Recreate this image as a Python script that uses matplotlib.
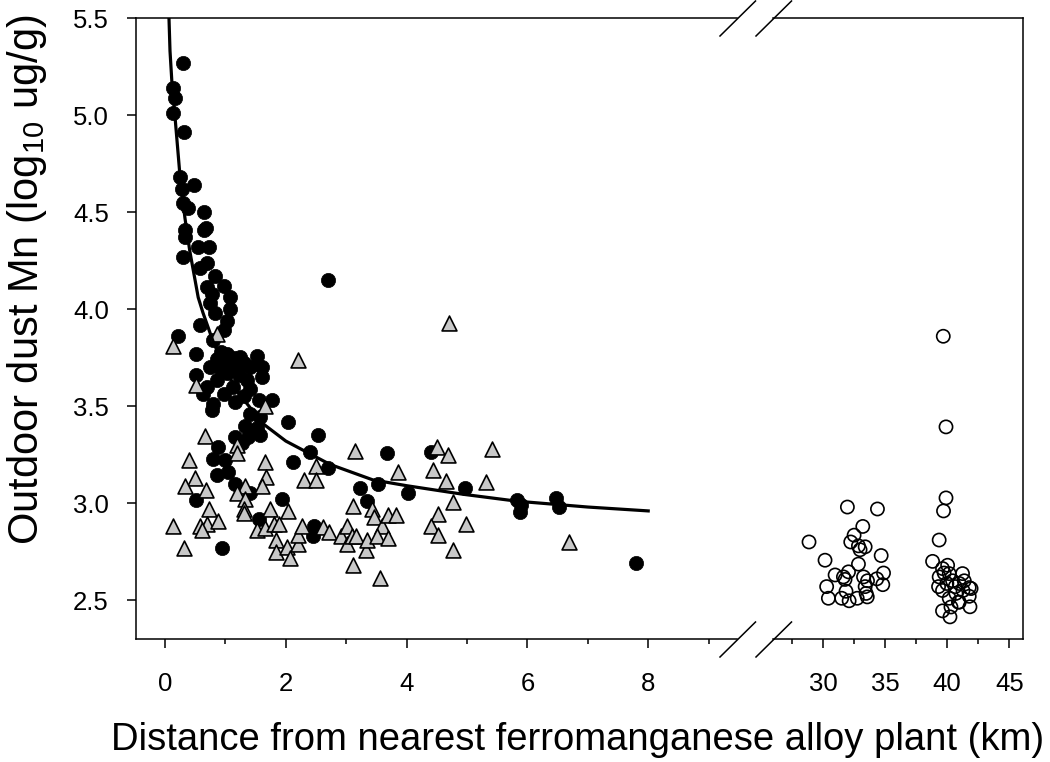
import numpy as np
import matplotlib
matplotlib.use('Agg')
import matplotlib.pyplot as plt
from matplotlib.lines import Line2D

plt.rcParams['font.family'] = ['Liberation Sans', 'DejaVu Sans']
plt.rcParams['mathtext.default'] = 'regular'

# near sites (filled circles)
near_x = [0.29, 0.13, 0.17, 0.14, 0.32, 0.25, 0.28, 0.48, 0.29, 0.38, 0.65, 0.68, 0.65, 0.33, 0.33,
          0.55, 0.73, 2.70, 0.30, 0.69, 0.58, 0.83, 0.98, 1.08, 0.69, 0.77, 0.75, 1.08, 0.83, 1.02,
          0.58, 0.97, 0.22, 0.80, 0.52, 1.02, 1.24, 1.52, 0.86, 1.41, 1.60, 0.75, 1.13, 1.02, 0.52,
          1.60, 1.35, 0.86, 0.69, 1.13, 1.41, 0.97, 0.63, 1.30, 0.80, 1.16, 0.77, 1.55, 1.77, 1.41,
          1.57, 2.04, 1.32, 1.52, 1.16, 1.38, 1.57, 2.53, 2.40, 2.12, 2.70, 1.27, 0.88, 0.80, 0.99,
          1.05, 0.86, 1.16, 1.41, 0.52, 1.94, 1.55, 2.46, 2.45, 0.94, 3.23, 3.34, 3.52, 3.68, 4.03,
          4.41, 4.97, 5.82, 5.90, 5.88, 6.48, 6.53, 7.80, 0.92, 1.15, 1.30, 0.92, 1.22, 1.05]
near_y = [5.27, 5.14, 5.09, 5.01, 4.91, 4.68, 4.62, 4.64, 4.545, 4.52, 4.50, 4.42, 4.41, 4.41, 4.37,
          4.32, 4.32, 4.15, 4.27, 4.24, 4.21, 4.17, 4.12, 4.06, 4.115, 4.08, 4.03, 4.00, 3.98, 3.94,
          3.92, 3.89, 3.86, 3.84, 3.77, 3.77, 3.755, 3.76, 3.745, 3.70, 3.70, 3.70, 3.685, 3.67, 3.66,
          3.65, 3.635, 3.635, 3.60, 3.60, 3.59, 3.565, 3.565, 3.55, 3.51, 3.52, 3.48, 3.53, 3.53, 3.46,
          3.445, 3.42, 3.40, 3.385, 3.34, 3.34, 3.35, 3.35, 3.265, 3.21, 3.18, 3.31, 3.29, 3.23, 3.22,
          3.16, 3.145, 3.10, 3.05, 3.015, 3.02, 2.92, 2.88, 2.83, 2.77, 3.076, 3.01, 3.10, 3.256, 3.05,
          3.265, 3.076, 3.015, 2.99, 2.955, 3.024, 2.98, 2.69, 3.78, 3.75, 3.72, 3.69, 3.66, 3.71]

# other sites (grey triangles)
mid_x = [0.14, 0.86, 0.52, 1.65, 2.20, 0.66, 4.70, 0.39, 1.20, 1.20, 1.66, 0.50, 0.33, 0.68, 1.68,
         1.32, 1.60, 1.19, 1.32, 0.73, 1.30, 1.74, 2.04, 1.30, 0.13, 0.58, 0.70, 0.88, 0.61, 0.31,
         1.52, 1.66, 1.80, 1.88, 1.83, 1.83, 2.02, 2.07, 2.21, 2.21, 2.26, 2.50, 2.30, 2.50, 2.61,
         2.72, 2.91, 3.01, 3.01, 3.09, 3.17, 3.12, 3.11, 3.15, 3.33, 3.35, 3.42, 3.46, 3.56, 3.59,
         3.51, 3.70, 3.70, 3.82, 3.86, 4.43, 4.51, 4.68, 4.66, 4.76, 4.52, 4.41, 4.52, 4.76, 4.98,
         5.41, 5.31, 6.69]
mid_y = [3.81, 3.87, 3.61, 3.50, 3.74, 3.345, 3.93, 3.22, 3.30, 3.256, 3.21, 3.13, 3.09, 3.07, 3.136,
         3.09, 3.09, 3.05, 3.02, 2.97, 2.97, 2.97, 2.96, 2.95, 2.88, 2.88, 2.895, 2.91, 2.86, 2.77,
         2.86, 2.87, 2.895, 2.895, 2.81, 2.75, 2.775, 2.715, 2.79, 2.835, 2.88, 3.19, 3.12, 3.12, 2.875,
         2.85, 2.83, 2.88, 2.79, 2.83, 2.83, 2.985, 2.68, 3.27, 2.76, 2.81, 2.97, 2.93, 2.615, 2.88,
         2.83, 2.82, 2.94, 2.94, 3.16, 3.17, 3.29, 3.25, 3.115, 3.007, 2.945, 2.88, 2.835, 2.76, 2.895,
         3.28, 3.11, 2.80]

# reference sites (open circles)
far_x = [31.96, 34.38, 33.2, 32.5, 32.23, 32.85, 33.39, 32.98, 28.87, 30.16, 32.85, 34.68, 30.97,
         31.64, 32.05, 31.77, 33.26, 33.58, 34.33, 34.87, 34.81, 30.29, 33.39, 31.85, 33.47, 30.43,
         31.5, 32.1, 32.75, 33.56,
         39.68, 39.9, 39.9, 39.7, 39.35, 38.82, 40.03, 39.62, 40.16, 41.23, 41.37, 39.35, 40.43,
         40.97, 39.97, 40.64, 41.27, 39.30, 39.62, 40.70, 41.77, 41.77, 40.16, 39.62, 40.30, 40.22,
         41.83, 40.97, 41.92, 40.9, 39.75]
far_y = [2.98, 2.97, 2.88, 2.835, 2.80, 2.78, 2.775, 2.76, 2.80, 2.706, 2.686, 2.73, 2.63,
         2.62, 2.646, 2.607, 2.62, 2.60, 2.61, 2.64, 2.58, 2.57, 2.57, 2.546, 2.535, 2.51,
         2.51, 2.497, 2.51, 2.517,
         3.86, 3.393, 3.027, 2.96, 2.81, 2.70, 2.68, 2.663, 2.637, 2.637, 2.60, 2.62, 2.60,
         2.586, 2.586, 2.57, 2.55, 2.57, 2.55, 2.535, 2.565, 2.52, 2.51, 2.445, 2.465, 2.414,
         2.466, 2.49, 2.56, 2.49, 2.64]

# fitted curve
fit_x = [0.066, 0.083, 0.12, 0.166, 0.25, 0.33, 0.41, 0.55, 0.63, 0.8, 1.0, 1.21, 1.62, 2.0,
         2.73, 3.44, 4.0, 4.93, 5.83, 7.0, 8.0]
fit_y = [5.5, 5.33, 5.14, 4.99, 4.68, 4.47, 4.30, 4.06, 3.98, 3.83, 3.69, 3.57, 3.41, 3.32,
         3.20, 3.12, 3.09, 3.046, 3.01, 2.98, 2.96]

W, H = 1050, 762
fig = plt.figure(figsize=(W / 100, H / 100), dpi=100)

def box(l, r, t, b):
    return [l / W, 1 - b / H, (r - l) / W, (b - t) / H]

ax1 = fig.add_axes(box(136, 737, 18, 639))
ax2 = fig.add_axes(box(773, 1023, 18, 639))

ax1.scatter(near_x, near_y, s=105, c='black', edgecolors='black', linewidths=0.5, zorder=3, clip_on=False)
ax1.scatter(mid_x, mid_y, s=115, marker='^', c='#c8c8c8', edgecolors='black', linewidths=1.2, zorder=4)
ax1.plot(fit_x, fit_y, color='black', lw=2.3, zorder=5)
ax2.scatter(far_x, far_y, s=90, facecolors='none', edgecolors='black', linewidths=1.2, zorder=3)

for ax in (ax1, ax2):
    ax.set_ylim(2.3, 5.5)
    for sp in ax.spines.values():
        sp.set_linewidth(1.1)
    ax.tick_params(axis='both', which='major', length=6.5, width=1.1, labelsize=18.5, direction='out')
    ax.tick_params(axis='both', which='minor', length=3.3, width=1.1, direction='out')
    ax.tick_params(axis='x', which='both', pad=17)

ax1.set_xlim(-0.48, 9.47)
ax1.set_xticks([0, 2, 4, 6, 8])
ax1.set_xticks([1, 3, 5, 7, 9], minor=True)
ax1.set_yticks([2.5, 3.0, 3.5, 4.0, 4.5, 5.0, 5.5])
ax1.set_yticklabels(['2.5', '3.0', '3.5', '4.0', '4.5', '5.0', '5.5'])
ax1.tick_params(axis='y', pad=13)
ax1.spines['right'].set_visible(False)

ax2.set_xlim(25.97, 46.1)
ax2.set_xticks([30, 35, 40, 45])
ax2.set_xticks([27.5, 32.5, 37.5, 42.5], minor=True)
ax2.set_yticks([])
ax2.spines['left'].set_visible(False)

# axis break marks
for x0 in (720, 756):
    for y0 in (36, 657):
        fig.add_artist(Line2D([x0 / W, (x0 + 35.5) / W], [1 - y0 / H, 1 - (y0 - 35) / H],
                              color='black', lw=1.1, transform=fig.transFigure))

fig.text(578 / W, 1 - 740 / H, 'Distance from nearest ferromanganese alloy plant (km)',
         ha='center', va='center', fontsize=27.5)
fig.text(27 / W, 1 - 280 / H, 'Outdoor dust Mn (log$_{10}$ ug/g)', rotation=90,
         ha='center', va='center', fontsize=30)

fig.savefig('out.png', dpi=100)
